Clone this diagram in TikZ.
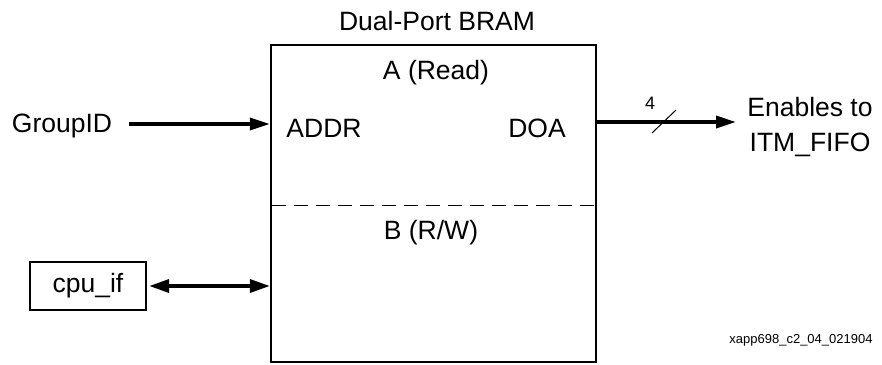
\documentclass[tikz,border=0pt]{standalone}
\usepackage{fontspec}
\setmainfont{Liberation Sans}
\usetikzlibrary{arrows.meta}
\begin{document}
\begin{tikzpicture}[x=1pt,y=-1pt,
  lbl/.style={inner sep=0pt, font=\fontsize{26.5}{31}\selectfont},
  sig/.style={line width=3.5pt, -{Triangle[length=20pt,width=12pt]}},
  bisig/.style={line width=3.5pt, {Triangle[length=20pt,width=13pt]}-{Triangle[length=20pt,width=13pt]}},
  boxed/.style={draw, line width=2.3pt, inner sep=0pt}]
\useasboundingbox (0,0) rectangle (882,364);
% main BRAM box
\node[boxed, minimum width=325pt, minimum height=317pt] (bram) at (433.5,203.5) {};
\node[lbl] (title) at (437,21) {Dual-Port BRAM};
\node[lbl] (porta) at (436,73) {A (Read)};
\node[lbl] (addr) at (324,128) {ADDR};
\node[lbl] (doa) at (537,128) {DOA};
\node[lbl] (portb) at (431,233) {B (R/W)};
% dashed divider
\coordinate (dl) at (272,205);
\coordinate (dr) at (595,205);
\draw[line width=1pt, dash pattern=on 14pt off 8pt] (dl) -- (dr);
% GroupID input
\node[lbl] (grp) at (62,126) {GroupID};
\coordinate (gs) at (129,124);
\draw[sig] (gs) -- (gs -| bram.west);
% DOA output
\coordinate (de) at (736,122);
\draw[sig] (bram.east |- de) -- (de);
\coordinate (s1) at (652,133);
\coordinate (s2) at (676,110);
\draw[line width=1pt] (s1) -- (s2);
\node[inner sep=0pt, font=\fontsize{18}{21}\selectfont] (width) at (650,103) {4};
\node[inner sep=0pt, align=center, font=\fontsize{26.5}{35}\selectfont] (enab) at (810,127) {Enables to\\ITM\_FIFO};
% cpu_if
\node[boxed, minimum width=116pt, minimum height=48pt, lbl] (cpu) at (88,286) {cpu\_if};
\draw[bisig, shorten <=2pt] (cpu.east) -- (cpu.east -| bram.west);
% footer
\node[inner sep=0pt, font=\fontsize{13}{15}\selectfont] (foot) at (801,340) {xapp698\_c2\_04\_021904};
\end{tikzpicture}
\end{document}
